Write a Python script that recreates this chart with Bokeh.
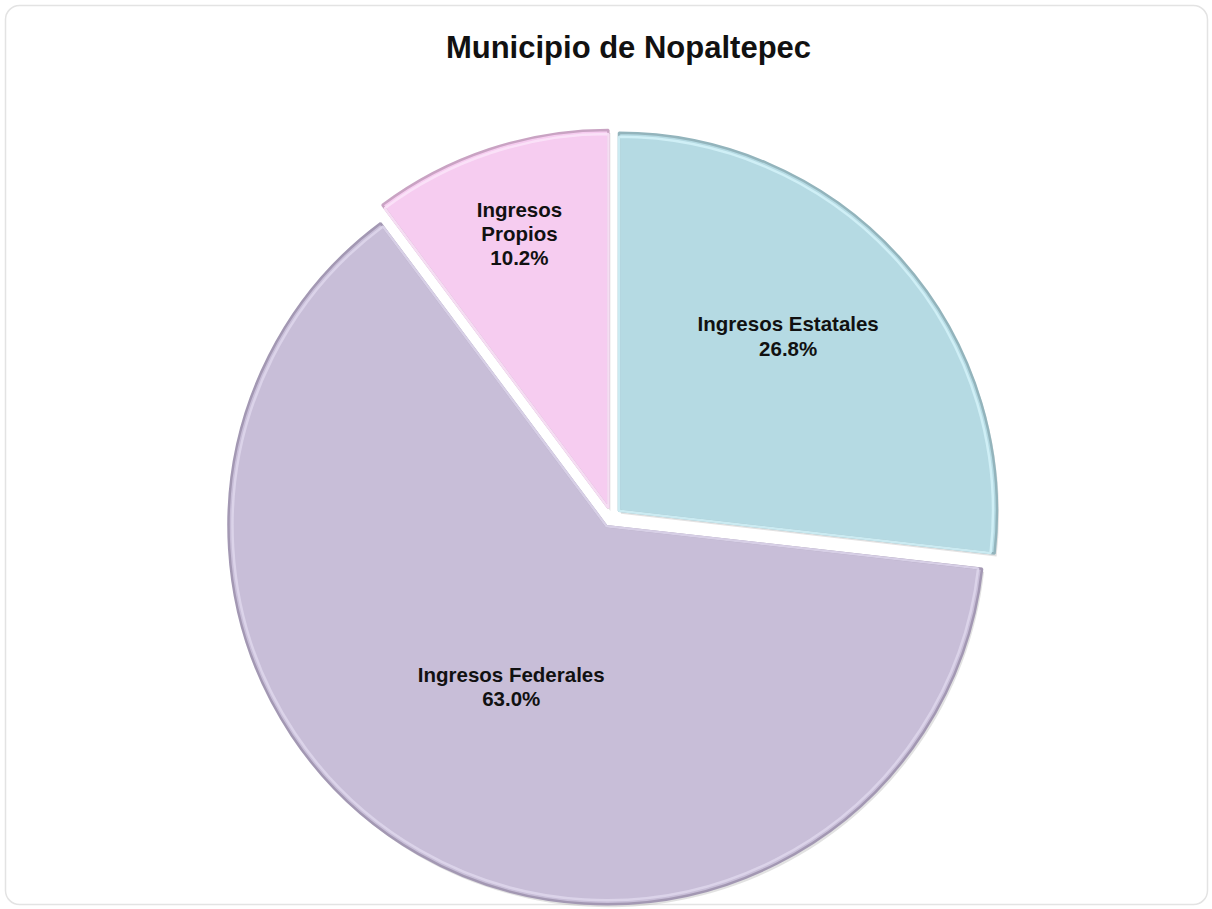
import numpy as np
from bokeh.plotting import figure
from bokeh.models import Range1d, ColumnDataSource
from bokeh.core.properties import value
from bokeh.embed import file_html
from bokeh.resources import INLINE

# ---- data ----
categories = ["Ingresos Estatales", "Ingresos Federales", "Ingresos Propios"]
shares = [26.8, 63.0, 10.2]
label_texts = ["Ingresos Estatales\n26.8%", "Ingresos Federales\n63.0%", "Ingresos\nPropios\n10.2%"]
title_text = "Municipio de Nopaltepec"

# ---- styles / layout ----
fills = ["#B5DAE3", "#C8BED8", "#F6CCF0"]
rims = ["#93B4BC", "#A398B3", "#C9A3C3"]
highlights = ["#D2F1F7", "#DDD5EB", "#FBE3F8"]
label_rfrac = [0.67, 0.52, 0.79]
label_dangle = [-4.0, 0.8, 0.4]

W, H = 1212, 909
CX, CY = 611, 392
R = 378
EXPLODE = 10

vals = np.array(shares, dtype=float)
frac = vals / vals.sum()
cum_end = np.cumsum(frac) * 2 * np.pi       # clockwise from 12 o'clock
cum_start = cum_end - frac * 2 * np.pi
mid = (cum_start + cum_end) / 2

xs = CX + EXPLODE * np.sin(mid)
ys = CY + EXPLODE * np.cos(mid)
start_ang = np.pi / 2 - cum_start
end_ang = np.pi / 2 - cum_end

src = ColumnDataSource(dict(x=xs, y=ys, start=start_ang, end=end_ang,
                            fill=fills, rim=rims, hl=highlights, cat=categories))

p = figure(width=W, height=H, output_backend="svg", toolbar_location=None,
           x_range=Range1d(0, W), y_range=Range1d(0, H), min_border=0,
           match_aspect=False)
p.axis.visible = False
p.grid.visible = False
p.background_fill_color = "white"
p.border_fill_color = "white"
p.outline_line_color = None

# rounded page frame
p.rect(x=[W / 2], y=[H / 2], width=W - 10, height=H - 10, fill_color=None,
       line_color="#E3E3E3", line_width=1.5, border_radius=14)

# soft shadow
p.wedge(x="x", y="y", radius=R, start_angle="start", end_angle="end",
        direction="clock", source=ColumnDataSource(dict(x=xs + 2, y=ys - 3, start=start_ang, end=end_ang)),
        fill_color="#A0A0A0", fill_alpha=0.3, line_color=None)
# main slices
p.wedge(x="x", y="y", radius=R, start_angle="start", end_angle="end",
        direction="clock", source=src, fill_color="fill", line_color="rim", line_width=2.5)
# inner bevel highlight
p.wedge(x="x", y="y", radius=R - 4, start_angle="start", end_angle="end",
        direction="clock", source=src, fill_color=None, line_color="hl", line_width=2.5, line_alpha=0.9)

# labels
la = mid + np.radians(label_dangle)
lr = np.array(label_rfrac) * R
lx = CX + lr * np.sin(la)
ly = CY + lr * np.cos(la)
p.text(x=lx, y=ly, text=label_texts, text_align="center", text_baseline="middle",
       text_font=value("Liberation Sans"), text_font_style="bold", text_font_size="20.5px",
       text_color="#111111", text_line_height=1.05)

# title
p.text(x=[628], y=[862], text=[title_text], text_align="center", text_baseline="alphabetic",
       text_font=value("Liberation Sans"), text_font_style="bold", text_font_size="31px",
       text_color="#111111")

open("out.html", "w").write(file_html(p, INLINE))
